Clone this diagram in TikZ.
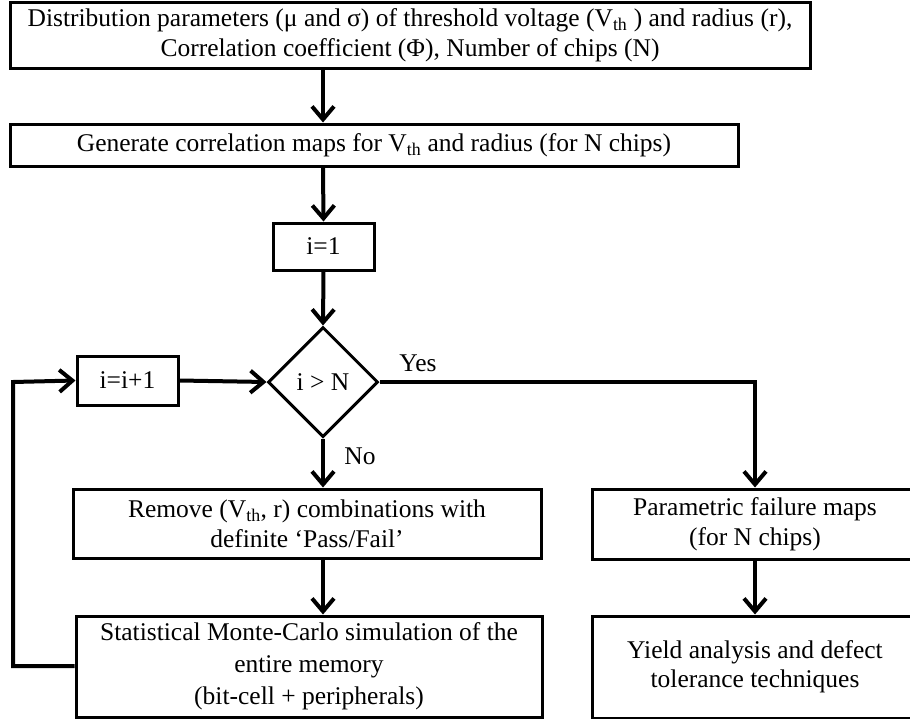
\documentclass[tikz,border=0pt]{standalone}
\usepackage{fontspec}
\setmainfont{Liberation Serif}
\usetikzlibrary{arrows.meta,shapes.geometric}
\begin{document}
\begin{tikzpicture}[x=1pt,y=-1pt,
  every node/.style={font=\fontsize{25.5}{32}\selectfont},
  box/.style={draw,line width=3pt,rectangle,inner sep=0pt,align=center},
  decision/.style={draw,line width=3pt,diamond,inner sep=0pt,
    minimum width=110pt,minimum height=110pt},
  flow/.style={line width=4pt,-{Straight Barb[length=13pt,width=22pt]}},
  lbl/.style={inner sep=0pt}]
\clip (0,0) rectangle (910,718);
\fill[white] (0,0) rectangle (910,718);

% process boxes
\node[box,minimum width=800pt,minimum height=66pt,
  font=\fontsize{25.5}{30}\selectfont] (inputs) at (410,35)
  {Distribution parameters (μ and σ) of threshold voltage (V\textsubscript{th} ) and radius (r),\\
   Correlation coefficient (Φ), Number of chips (N)};
\node[box,minimum width=728pt,minimum height=42pt] (maps) at (374,145)
  {Generate correlation maps for V\textsubscript{th} and radius (for N chips)};
\node[box,minimum width=101pt,minimum height=47pt] (init) at (323.5,246.5) {i=1};
\node[decision] (test) at (323,382) {i > N};
\node[box,minimum width=101pt,minimum height=49pt] (incr) at (127.5,380.5) {i=i+1};
\node[box,minimum width=468pt,minimum height=69pt,
  font=\fontsize{25.5}{30}\selectfont] (remove) at (307,523.5)
  {Remove (V\textsubscript{th}, r) combinations with\\ definite `Pass/Fail'};
\node[box,minimum width=466pt,minimum height=101pt] (mc) at (309,666.5)
  {Statistical Monte-Carlo simulation of the\\ entire memory\\ (bit-cell + peripherals)};
\node[box,minimum width=326pt,minimum height=70pt,
  font=\fontsize{25.5}{30}\selectfont] (fmaps) at (755,524)
  {Parametric failure maps\\ (for N chips)};
\node[box,minimum width=326pt,minimum height=102pt,
  font=\fontsize{25.5}{29}\selectfont] (yield) at (755,667)
  {Yield analysis and defect\\ tolerance techniques};

% branch labels
\node[lbl] (yes) at (418,363) {Yes};
\node[lbl] (no) at (360,456) {No};

% connectors
\coordinate (loopB) at (13,666);
\coordinate (loopT) at (13,382);
\coordinate (yesC) at (755,382);
\draw[flow] (inputs.south -| test) -- (maps.north -| test);
\draw[flow] (maps.south -| test) -- (init.north);
\draw[flow] (init.south) -- (test.north);
\draw[flow] (incr.east) -- (test.west);
\draw[flow] (test.south) -- (remove.north -| test);
\draw[flow] (remove.south -| test) -- (mc.north -| test);
\draw[flow] (test.east) -- (yesC) -- (fmaps.north);
\draw[flow] (fmaps.south) -- (yield.north);
\draw[flow] (mc.west |- loopB) -- (loopB) -- (loopT) -- (incr.west);
\end{tikzpicture}
\end{document}
